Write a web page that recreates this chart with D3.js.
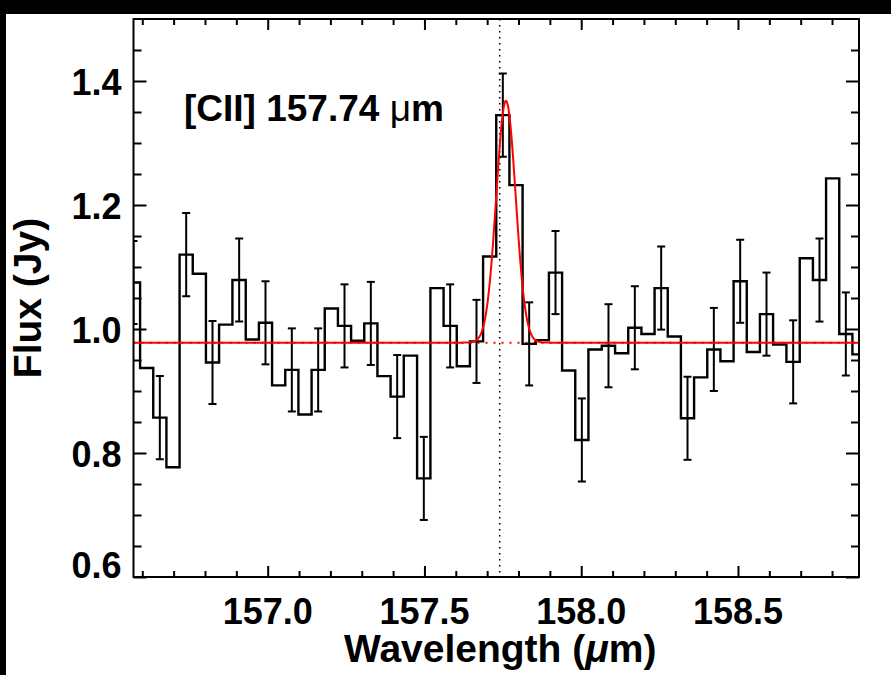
<!DOCTYPE html>
<html><head><meta charset="utf-8">
<script src="https://cdn.jsdelivr.net/npm/d3@7"></script>
<style>html,body{margin:0;padding:0;background:#000;} svg{display:block;}</style>
</head><body><svg id="c" width="891" height="675"></svg>
<script>
// ---- data ----
const wavelength = [156.572,156.614,156.656,156.698,156.740,156.782,156.824,156.866,156.909,156.951,
  156.993,157.035,157.077,157.119,157.161,157.203,157.245,157.287,157.329,157.371,
  157.413,157.455,157.498,157.540,157.582,157.624,157.666,157.708,157.750,157.792,
  157.834,157.876,157.918,157.960,158.002,158.044,158.087,158.129,158.171,158.213,
  158.255,158.297,158.339,158.381,158.423,158.465,158.507,158.549,158.591,158.633,
  158.676,158.718,158.760,158.802,158.844,158.886];
const flux = [1.075,0.937,0.857,0.777,1.120,1.089,0.946,1.007,1.079,0.983,
  1.010,0.909,0.934,0.862,0.934,1.033,1.005,0.981,1.009,0.924,
  0.891,0.957,0.759,1.066,1.005,0.940,0.980,1.117,1.345,1.232,
  0.976,0.982,1.091,0.933,0.821,0.967,0.973,0.961,1.002,0.992,
  1.066,0.988,0.856,0.922,0.967,0.948,1.077,0.963,1.024,0.975,
  0.947,1.114,1.079,1.243,0.992,0.959];
const fluxErr = [0.067,null,0.067,null,0.067,null,0.067,null,0.067,null,
  0.067,null,0.067,null,0.067,null,0.067,null,0.067,null,
  0.067,null,0.067,null,0.067,null,0.067,null,0.067,null,
  0.067,null,0.067,null,0.067,null,0.067,null,0.067,null,
  0.067,null,0.067,null,0.067,null,0.067,null,0.067,null,
  0.067,null,0.067,null,0.067,null];
const yTicks = [0.6,0.8,1.0,1.2,1.4];
const yMinorTicks = [0.65,0.7,0.75,0.85,0.9,0.95,1.05,1.1,1.15,1.25,1.3,1.35,1.45];
const xTicks = [157.0,157.5,158.0,158.5];
const xMinorTicks = [156.6,156.7,156.8,156.9,157.1,157.2,157.3,157.4,157.6,157.7,157.8,157.9,158.1,158.2,158.3,158.4,158.6,158.7,158.8];
const lineRest = 157.74;
const fitContinuum = 0.978, fitAmplitude = 0.390, fitCenter = 157.760, fitSigma = 0.031;
const xDomain = [156.572, 158.886];
const yDomain = [0.6, 1.5];

// ---- layout ----
const L = 133.5, R = 859, T = 19, B = 577;
const FONT = "'Liberation Sans', Arial, Helvetica, sans-serif";
const svg = d3.select("#c");
svg.append("rect").attr("x",6).attr("y",14).attr("width",885).attr("height",661).attr("fill","#fff");

const x = d3.scaleLinear().domain(xDomain).range([L, R]);
const y = d3.scaleLinear().domain(yDomain).range([B, T]);

svg.append("clipPath").attr("id","clip").append("rect")
  .attr("x",L).attr("y",T).attr("width",R-L).attr("height",B-T);
const plot = svg.append("g").attr("clip-path","url(#clip)");

// red dotted continuum
plot.append("line").attr("x1",L).attr("x2",R).attr("y1",y(fitContinuum)).attr("y2",y(fitContinuum))
  .attr("stroke","#ff0000").attr("stroke-width",2).attr("stroke-dasharray","2,6");

// histogram
const pts = wavelength.map((w,i)=>[w, flux[i]]);
plot.append("path").datum(pts)
  .attr("d", d3.line().x(d=>x(d[0])).y(d=>y(d[1])).curve(d3.curveStep))
  .attr("fill","none").attr("stroke","#000").attr("stroke-width",2.4);

// error bars
const errs = wavelength.map((w,i)=>({w, f:flux[i], e:fluxErr[i]})).filter(d=>d.e!=null);
const eg = plot.append("g").attr("stroke","#000").attr("stroke-width",2);
eg.selectAll("line.v").data(errs).join("line").attr("class","v")
  .attr("x1",d=>x(d.w)).attr("x2",d=>x(d.w)).attr("y1",d=>y(d.f-d.e)).attr("y2",d=>y(d.f+d.e));
eg.selectAll("line.t").data(errs).join("line").attr("class","t")
  .attr("x1",d=>x(d.w)-4).attr("x2",d=>x(d.w)+4).attr("y1",d=>y(d.f+d.e)).attr("y2",d=>y(d.f+d.e));
eg.selectAll("line.b").data(errs).join("line").attr("class","b")
  .attr("x1",d=>x(d.w)-4).attr("x2",d=>x(d.w)+4).attr("y1",d=>y(d.f-d.e)).attr("y2",d=>y(d.f-d.e));

// vertical dotted line at rest wavelength
plot.append("line").attr("x1",x(lineRest)).attr("x2",x(lineRest)).attr("y1",T).attr("y2",B)
  .attr("stroke","#000").attr("stroke-width",1.6).attr("stroke-dasharray","1.6,4.4");

// gaussian fit
const model = d3.range(0, 1001).map(k => {
  const w = xDomain[0] + (xDomain[1]-xDomain[0])*k/1000;
  return [w, fitContinuum + fitAmplitude*Math.exp(-0.5*Math.pow((w-fitCenter)/fitSigma,2))];
});
plot.append("path").datum(model)
  .attr("d", d3.line().x(d=>x(d[0])).y(d=>y(d[1])))
  .attr("fill","none").attr("stroke","#ff0000").attr("stroke-width",2);

// axes ticks
function tickAxis(axis, tr, len){
  const g = svg.append("g").attr("transform",tr).call(axis.tickSize(len).tickFormat(""));
  g.select(".domain").remove();
  g.selectAll(".tick line").attr("stroke","#000").attr("stroke-width",2);
}
tickAxis(d3.axisLeft(y).tickValues(yTicks), `translate(${L},0)`, -13);
tickAxis(d3.axisLeft(y).tickValues(yMinorTicks), `translate(${L},0)`, -8);
tickAxis(d3.axisRight(y).tickValues(yTicks), `translate(${R},0)`, -13);
tickAxis(d3.axisRight(y).tickValues(yMinorTicks), `translate(${R},0)`, -8);
tickAxis(d3.axisBottom(x).tickValues(xTicks), `translate(0,${B})`, -11);
tickAxis(d3.axisBottom(x).tickValues(xMinorTicks), `translate(0,${B})`, -6);
tickAxis(d3.axisTop(x).tickValues(xTicks), `translate(0,${T})`, -11);
tickAxis(d3.axisTop(x).tickValues(xMinorTicks), `translate(0,${T})`, -6);

svg.append("rect").attr("x",L).attr("y",T).attr("width",R-L).attr("height",B-T)
  .attr("fill","none").attr("stroke","#000").attr("stroke-width",2);

// tick labels
const fmt = d3.format(".1f");
svg.append("g").selectAll("text").data(yTicks).join("text")
  .attr("x", L-12).attr("y", d=>Math.min(y(d)+14, B+1))
  .attr("text-anchor","end").attr("font-family",FONT).attr("font-weight","bold").attr("font-size",36)
  .attr("fill","#000").text(fmt);
svg.append("g").selectAll("text").data(xTicks).join("text")
  .attr("x", d=>x(d)).attr("y", 624)
  .attr("text-anchor","middle").attr("font-family",FONT).attr("font-weight","bold").attr("font-size",36)
  .attr("fill","#000").text(fmt);

// axis titles
const xt = svg.append("text").attr("x",(L+R)/2 + 4).attr("y",662).attr("text-anchor","middle")
  .attr("font-family",FONT).attr("font-weight","bold").attr("font-size",39).attr("fill","#000");
xt.append("tspan").text("Wavelength (");
xt.append("tspan").attr("font-style","italic").text("\u03bc");
xt.append("tspan").text("m)");

svg.append("text").attr("transform",`translate(41,${(T+B)/2}) rotate(-90)`).attr("text-anchor","middle")
  .attr("font-family",FONT).attr("font-weight","bold").attr("font-size",39).attr("fill","#000")
  .text("Flux (Jy)");

// line annotation
const an = svg.append("text").attr("x",184).attr("y",121)
  .attr("font-family",FONT).attr("font-weight","bold").attr("font-size",37).attr("fill","#000");
an.append("tspan").text("[CII] 157.74 ");
an.append("tspan").attr("font-weight","normal").text("\u03bc");
an.append("tspan").text("m");
</script></body></html>
